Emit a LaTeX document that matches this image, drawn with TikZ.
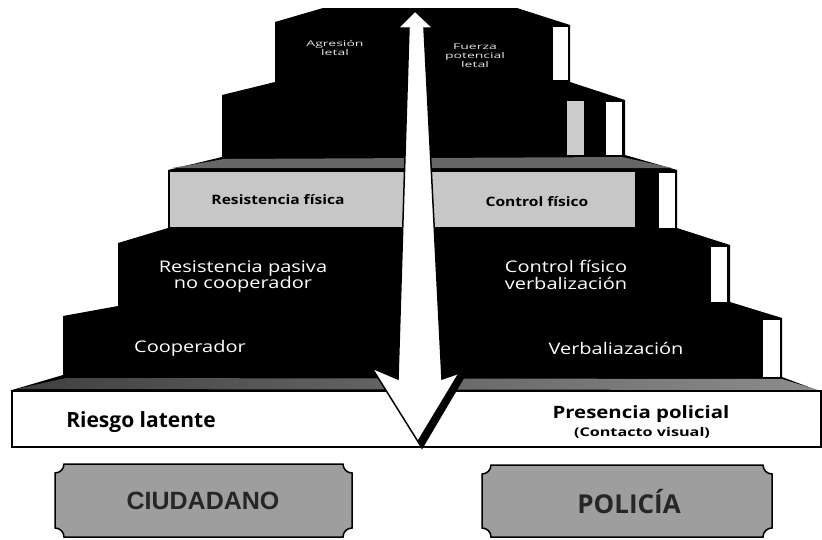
\documentclass[tikz,border=0pt]{standalone}
\usepackage{fontspec}
\setmainfont{Open Sans}
\newfontfamily\arialfont{Liberation Sans}
\usepackage{graphicx}
\newcommand{\hs}[2]{\scalebox{#1}[1]{#2}}
\newcommand{\lines}[1]{\begin{tabular}{@{}c@{}}#1\end{tabular}}
\newcommand{\plaquebox}[4]{%
  \draw[plaque] (#1+9,#2) -- (#3-9,#2) .. controls (#3-9,#2+5) and (#3-5,#2+9) .. (#3,#2+9)
    -- (#3,#4-9) .. controls (#3-5,#4-9) and (#3-9,#4-5) .. (#3-9,#4)
    -- (#1+9,#4) .. controls (#1+9,#4-5) and (#1+5,#4-9) .. (#1,#4-9)
    -- (#1,#2+9) .. controls (#1+5,#2+9) and (#1+9,#2+5) .. (#1+9,#2) -- cycle;}
\begin{document}
\begin{tikzpicture}[x=1pt,y=-1pt,
  lab/.style={inner sep=0pt, anchor=center},
  wl/.style={lab,text=white,font=\fontsize{16}{15}\selectfont},
  sl/.style={lab,text=white!90!black,font=\fontsize{8}{9}\selectfont},
  bl/.style={lab,text=black,font=\fontsize{13}{14}\selectfont\bfseries},
  sidewin/.style={fill=white,draw=black,line width=0.8pt},
  plaque/.style={fill=black!38,draw=black,line width=1.5pt},
  boxtext/.style={lab,text=black!85}
]
\useasboundingbox (0,0) rectangle (822,539);
% pyramid silhouette
\fill[black] (12,447) -- (12,390) -- (63,375) -- (63,316) -- (118,306) -- (118,243)
  -- (168,228) -- (168,170) -- (222,157) -- (222,95) -- (275,82) -- (275,22)
  -- (323,8) -- (517,8) -- (570,25) -- (570,82) -- (625,100) -- (625,155)
  -- (677,170) -- (677,228) -- (730,245) -- (730,302) -- (782,318) -- (782,377)
  -- (822,392) -- (822,447) -- cycle;
% top face between level 5 and level 4
\fill[black!60] (172,168) -- (224,159) -- (622,157) -- (672,168) -- cycle;
% level 4 front (gray)
\fill[black!22] (170,172) rectangle (635,227);
% top face between level 2 and level 1
\shade[left color=black!75, right color=black!45] (16,389) -- (66,378) -- (782,379) -- (818,390) -- cycle;
% level 1 front (white)
\draw[fill=white, line width=1.5pt] (12,391) rectangle (821,447);
% side windows
\draw[sidewin] (552,26) rectangle (568,80);
\fill[black!20] (567,101) rectangle (584,155);
\draw[sidewin] (605,101) rectangle (622,155);
\draw[sidewin] (658,172) rectangle (675,228);
\draw[sidewin] (710,246) rectangle (727,302);
\draw[sidewin] (762,319) rectangle (780,377);
% big double arrow
\draw[fill=white, line width=1.5pt, line join=miter] (415,11) -- (433,28) -- (424,28)
  -- (442,379) -- (468,370) -- (422,448) -- (372,368) -- (398,379) -- (409,28)
  -- (398,28) -- cycle;
\fill[black] (468,370) -- (422,448) -- (418,440) -- (459,372) -- cycle;
% labels
\node[sl] (agr) at (335,49) {\hs{1.75}{\lines{Agresión\\letal}}};
\node[sl] (fue) at (475,57) {\hs{1.75}{\lines{Fuerza\\potencial\\letal}}};
\node[bl] (resf) at (278,200) {\hs{1.2}{Resistencia física}};
\node[bl] (conf) at (537,202) {\hs{1.2}{Control físico}};
\node[wl] (rpas) at (243,277) {\hs{1.25}{\lines{Resistencia pasiva\\no cooperador}}};
\node[wl] (cfv) at (566,277) {\hs{1.25}{\lines{Control físico\\verbalización}}};
\node[wl] (coop) at (190,348) {\hs{1.25}{Cooperador}};
\node[wl] (verb) at (616,348) {\hs{1.25}{Verbaliazación}};
\node[lab, font=\fontsize{21}{22}\selectfont\bfseries] (ries) at (141,422) {Riesgo latente};
\node[lab, font=\fontsize{17}{18}\selectfont\bfseries] (pres) at (641,414) {\hs{1.2}{Presencia policial}};
\node[lab, font=\fontsize{12}{13}\selectfont\bfseries] (cont) at (642,433) {\hs{1.35}{(Contacto visual)}};
% bottom plaques
\plaquebox{55}{464}{352}{537}
\plaquebox{482}{465}{772}{537}
\node[boxtext, font=\arialfont\fontsize{25}{26}\selectfont\bfseries] (ciu) at (203,501) {CIUDADANO};
\node[boxtext, font=\fontsize{26}{27}\selectfont\bfseries] (pol) at (629,502) {POLICÍA};
\end{tikzpicture}
\end{document}
